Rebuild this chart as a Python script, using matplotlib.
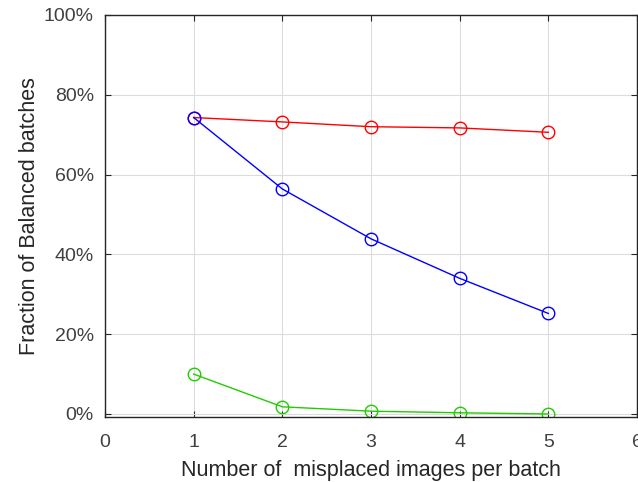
import numpy as np
import matplotlib
matplotlib.use("Agg")
import matplotlib.pyplot as plt
from matplotlib.ticker import FuncFormatter

plt.rcParams['font.family'] = ['Liberation Sans', 'DejaVu Sans']

# dati
n_img = [1, 2, 3, 4, 5]
rosso = [74.3, 73.2, 72.0, 71.7, 70.6]
blu = [74.3, 56.4, 43.9, 34.0, 25.2]
verde = [10.0, 1.8, 0.7, 0.3, 0.0]

fig = plt.figure(figsize=(6.38, 4.82), dpi=100)
ax = fig.add_axes([0.1646, 0.1349, 0.8338, 0.834])

ax.plot(n_img, rosso, color="#ff0000", lw=1.0, marker="o", mfc="none", ms=9, mew=1.0)
ax.plot(n_img, blu, color="#0000ff", lw=1.0, marker="o", mfc="none", ms=9, mew=1.0)
ax.plot(n_img, verde, color="#22cc00", lw=1.0, marker="o", mfc="none", ms=9, mew=1.0)

ax.set_xlim(0, 6)
ax.set_ylim(-0.75, 100)
ax.set_xticks([0, 1, 2, 3, 4, 5, 6])
ax.set_yticks([0, 20, 40, 60, 80, 100])
ax.yaxis.set_major_formatter(FuncFormatter(lambda v, p: "%d%%" % v))

ax.grid(True, color="#dcdcdc", lw=0.8)
ax.set_axisbelow(True)
ax.tick_params(direction="in", top=True, right=True, length=4, width=0.8,
               colors="#262626", labelcolor="#404040", labelsize=14)
ax.tick_params(axis="x", pad=12)
ax.tick_params(axis="y", pad=8)
for s in ax.spines.values():
    s.set_color("#262626")
    s.set_linewidth(1.0)

ax.set_xlabel("Number of  misplaced images per batch", fontsize=15.5, color="#262626", labelpad=7)
ax.set_ylabel("Fraction of Balanced batches", fontsize=15.5, color="#262626", labelpad=3)

plt.savefig("out.png", dpi=100)
